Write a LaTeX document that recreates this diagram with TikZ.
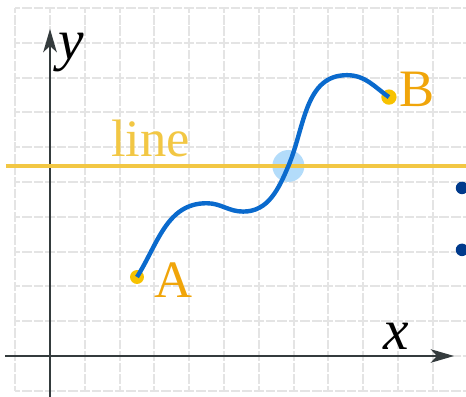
\documentclass[tikz,border=0pt]{standalone}
\usepackage{fontspec}
\setmainfont{Liberation Serif}
\usetikzlibrary{arrows.meta}
\definecolor{gridc}{HTML}{E4E4E4}
\definecolor{axisc}{HTML}{343B3D}
\definecolor{linec}{HTML}{F2C744}
\definecolor{dotc}{HTML}{F7C200}
\definecolor{ptlbl}{HTML}{F0A50A}
\definecolor{curvec}{HTML}{0A6ACD}
\definecolor{hitc}{HTML}{B3DCFA}
\definecolor{navy}{HTML}{003A8C}
\tikzset{
  gridline/.style={gridc, line width=1.6pt, dash pattern=on 0.28cm off 0.0533cm, dash phase=0.14cm},
  axisline/.style={axisc, line width=2.2pt, -{Stealth[length=19pt,width=11pt,inset=5pt]}},
  hline/.style={linec, line width=2.7pt},
  curveline/.style={curvec, line width=3.6pt},
  ptdot/.style={circle, fill=dotc, inner sep=0pt},
  ptlabel/.style={text=ptlbl, font=\fontsize{43}{43}\selectfont, inner sep=0pt},
  axlabel/.style={text=black, font=\fontsize{47}{47}\selectfont\itshape, inner sep=0pt},
  sidedot/.style={circle, fill=navy, inner sep=0pt, minimum size=0.36cm}
}
\begin{document}
\begin{tikzpicture}
\useasboundingbox (-1.437,-1.178) rectangle (11.954,10.23);
% grid
\foreach \i in {-1,...,10} \draw[gridline] (-1,\i) -- (12,\i);
\foreach \i in {-1,...,11} \draw[gridline] (\i,-1) -- (\i,10);
% axes
\coordinate (xs) at (-1.29,0);
\coordinate (xe) at (11.61,0);
\coordinate (ys) at (0,-1.25);
\coordinate (ye) at (0,9.4);
\draw[axisline] (xs) -- (xe);
\draw[axisline] (ys) -- (ye);
\node[axlabel, anchor=base] (xl) at (9.95,0.2) {x};
\node[axlabel, anchor=base] (yl) at (0.6,8.53) {y};
% crossing highlight and horizontal line
\fill[hitc] (6.85,5.46) circle (0.46);
\coordinate (ls) at (-1.27,5.46);
\coordinate (le) at (12,5.46);
\draw[hline] (ls) -- (le);
\node[text=linec, font=\fontsize{43}{43}\selectfont, inner sep=0pt, anchor=base west] (ll) at (1.75,5.72) {line};
% points
\node[ptdot, minimum size=0.4cm] (A) at (2.5,2.27) {};
\node[ptdot, minimum size=0.44cm] (B) at (9.74,7.44) {};
\coordinate (m1) at (4.5,4.39);
\coordinate (m2) at (5.55,4.15);
\coordinate (c) at (6.85,5.46);
\coordinate (pk) at (8.53,8.07);
\draw[curveline] (A.center) to[out=58,in=180] (m1) to[out=0,in=180] (m2)
  to[out=0,in=247] (c) to[out=67,in=180] (pk) to[out=0,in=145] (B.center);
\node[ptlabel, anchor=base west] (la) at (3.0,1.67) {A};
\node[ptlabel, anchor=base west] (lb) at (10.04,7.16) {B};
% side dots
\node[sidedot] (s1) at (11.84,4.83) {};
\node[sidedot] (s2) at (11.84,3.05) {};
\end{tikzpicture}
\end{document}
